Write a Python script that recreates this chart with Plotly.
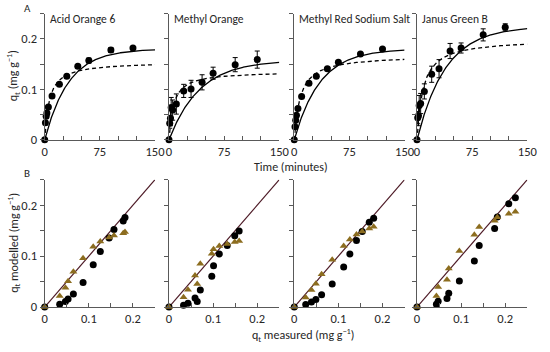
import numpy as np
import plotly.graph_objects as go

# ---------------- data ----------------
dyes = ["Acid Orange 6", "Methyl Orange", "Methyl Red Sodium Salt", "Janus Green B"]
time_min = [0, 1, 2, 3, 5, 10, 20, 30, 45, 60, 90, 120]

q_ao6 = [0, 0.034, 0.047, 0.053, 0.065, 0.087, 0.110, 0.126, 0.146, 0.157, 0.178, 0.182]
e_ao6 = [0, 0.004, 0.004, 0.004, 0.003, 0.003, 0.003, 0.003, 0.003, 0.005, 0.005, 0.003]
q_mo = [0, 0.033, 0.043, 0.064, 0.059, 0.071, 0.097, 0.101, 0.114, 0.132, 0.149, 0.159]
e_mo = [0, 0.010, 0.015, 0.020, 0.020, 0.020, 0.013, 0.017, 0.015, 0.012, 0.014, 0.017]
q_mr = [0, 0.026, 0.039, 0.049, 0.062, 0.086, 0.112, 0.126, 0.141, 0.154, 0.170, 0.180]
e_mr = [0, 0.003, 0.003, 0.003, 0.003, 0.003, 0.003, 0.003, 0.003, 0.003, 0.003, 0.003]
q_jg = [0, 0.044, 0.048, 0.068, 0.072, 0.096, 0.130, 0.141, 0.176, 0.182, 0.208, 0.223]
e_jg = [0, 0.012, 0.020, 0.020, 0.020, 0.015, 0.016, 0.018, 0.015, 0.010, 0.012, 0.007]

# fitted kinetic parameters (pseudo-first order: qe, k1 ; pseudo-second order: qe, k2)
pfo_qe = [0.180, 0.158, 0.180, 0.225]
pfo_k1 = [0.031, 0.024, 0.0288, 0.0257]
pso_qe = [0.155, 0.136, 0.168, 0.200]
pso_k2 = [1.048, 1.226, 0.738, 0.611]

x_ticks_top = [0, 25, 50, 75, 100, 125, 150]
x_text_top = ["0", "", "", "75", "", "", "150"]
q_ticks = [0, 0.05, 0.1, 0.15, 0.2, 0.25]
q_text = ["0", "", "0.1", "", "0.2", ""]

measured = [q_ao6, q_mo, q_mr, q_jg]
errors = [e_ao6, e_mo, e_mr, e_jg]

# ---------------- layout helpers ----------------
W, H = 550, 352
FONT = "Carlito, Lato, 'Open Sans', sans-serif"
AX = "#595959"
TXT = "#262626"
TRI = "#8c6d1f"
DIAG = "#4d1a26"

left_px = [42.7, 170.0, 298.3, 424.0]
panel_w = 113.0
top_y = (142.7, 13.95)     # y pixel of value 0 and 0.25 (top panels)
bot_y = (313.3, 183.3)


def pfo(qe, k, t):
    t = np.asarray(t, dtype=float)
    return qe * (1 - np.exp(-k * t))


def pso(qe, k, t):
    t = np.asarray(t, dtype=float)
    return qe * qe * k * t / (1 + qe * k * t)


fig = go.Figure()
layout = dict(
    width=W, height=H, margin=dict(l=0, r=0, t=0, b=0),
    paper_bgcolor="white", plot_bgcolor="white", showlegend=False,
    font=dict(family=FONT, size=12, color=TXT),
)

t_curve = np.linspace(0, 150, 301)

for i in range(4):
    xd = [left_px[i] / W, (left_px[i] + panel_w) / W]
    n_top = 2 * i + 1
    n_bot = 2 * i + 2
    xa_t, ya_t = f"x{n_top}", f"y{n_top}"
    xa_b, ya_b = f"x{n_bot}", f"y{n_bot}"
    common_x = dict(showgrid=False, zeroline=False, showline=True, linecolor=AX, linewidth=1,
                    ticks="inside", ticklen=4, tickcolor=AX, tickfont=dict(size=12.5, color=TXT))
    common_y = dict(showgrid=False, zeroline=False, showline=True, linecolor=AX, linewidth=1,
                    ticks="outside", ticklen=4, tickcolor=AX, tickfont=dict(size=12.5, color=TXT),
                    tickvals=q_ticks, ticktext=q_text, showticklabels=(i == 0))
    layout[f"xaxis{n_top}"] = dict(domain=xd, range=[0, 150], anchor=ya_t,
                                   tickvals=x_ticks_top, ticktext=x_text_top, **common_x)
    layout[f"yaxis{n_top}"] = dict(domain=[1 - top_y[0] / H, 1 - top_y[1] / H], range=[0, 0.25],
                                   anchor=xa_t, **common_y)
    layout[f"xaxis{n_bot}"] = dict(domain=xd, range=[0, 0.25], anchor=ya_b,
                                   tickvals=q_ticks, ticktext=q_text, **common_x)
    layout[f"yaxis{n_bot}"] = dict(domain=[1 - bot_y[0] / H, 1 - bot_y[1] / H], range=[0, 0.25],
                                   anchor=xa_b, **common_y)

    # model curves
    fig.add_trace(go.Scatter(x=t_curve, y=pfo(pfo_qe[i], pfo_k1[i], t_curve), mode="lines",
                             line=dict(color="black", width=1.3), xaxis=xa_t, yaxis=ya_t,
                             cliponaxis=False))
    fig.add_trace(go.Scatter(x=t_curve, y=pso(pso_qe[i], pso_k2[i], t_curve), mode="lines",
                             line=dict(color="black", width=1.3, dash="4px,3px"), xaxis=xa_t, yaxis=ya_t,
                             cliponaxis=False))
    # measured points
    fig.add_trace(go.Scatter(x=time_min, y=measured[i], mode="markers",
                             marker=dict(color="black", size=7),
                             error_y=dict(type="data", array=errors[i], color="black", thickness=1, width=2.5),
                             xaxis=xa_t, yaxis=ya_t, cliponaxis=False))

    # bottom: modelled vs measured
    fig.add_trace(go.Scatter(x=[0, 0.25], y=[0, 0.25], mode="lines",
                             line=dict(color=DIAG, width=1.2), xaxis=xa_b, yaxis=ya_b))
    fig.add_trace(go.Scatter(x=measured[i], y=pfo(pfo_qe[i], pfo_k1[i], time_min), mode="markers",
                             marker=dict(color="black", size=7), xaxis=xa_b, yaxis=ya_b, cliponaxis=False))
    fig.add_trace(go.Scatter(x=measured[i], y=pso(pso_qe[i], pso_k2[i], time_min), mode="markers",
                             marker=dict(color=TRI, size=7, symbol="triangle-up"),
                             xaxis=xa_b, yaxis=ya_b, cliponaxis=False))

annotations = []
for i, name in enumerate(dyes):
    annotations.append(dict(text=name, x=(left_px[i] + 3) / W, y=1 - 19 / H, xref="paper", yref="paper",
                            xanchor="left", yanchor="middle", showarrow=False,
                            font=dict(size=11.5, color=TXT)))
annotations += [
    dict(text="A", x=25 / W, y=1 - 9 / H, xref="paper", yref="paper", showarrow=False,
         xanchor="center", yanchor="middle", font=dict(size=11, color=TXT)),
    dict(text="B", x=25 / W, y=1 - 177 / H, xref="paper", yref="paper", showarrow=False,
         xanchor="center", yanchor="middle", font=dict(size=11, color=TXT)),
    dict(text="Time (minutes)", x=295 / W, y=1 - 170 / H, xref="paper", yref="paper", showarrow=False,
         xanchor="center", yanchor="middle", font=dict(size=12, color=TXT)),
    dict(text="q<sub>t</sub> measured (mg g<sup>−1</sup>)", x=307 / W, y=1 - 342 / H, xref="paper",
         yref="paper", showarrow=False, xanchor="center", yanchor="middle", font=dict(size=12, color=TXT)),
    dict(text="q<sub>t</sub> (mg g<sup>−1</sup>)", x=11 / W, y=1 - 77 / H, xref="paper", yref="paper",
         showarrow=False, textangle=-90, xanchor="center", yanchor="middle", font=dict(size=12, color=TXT)),
    dict(text="q<sub>t</sub> modelled (mg g<sup>−1</sup>)", x=11 / W, y=1 - 248 / H, xref="paper",
         yref="paper", showarrow=False, textangle=-90, xanchor="center", yanchor="middle",
         font=dict(size=12, color=TXT)),
]
layout["annotations"] = annotations
fig.update_layout(**layout)
fig.write_html("out.html", config={"displayModeBar": False},
               post_script="document.body.style.margin='0';document.body.style.overflow='hidden';")
